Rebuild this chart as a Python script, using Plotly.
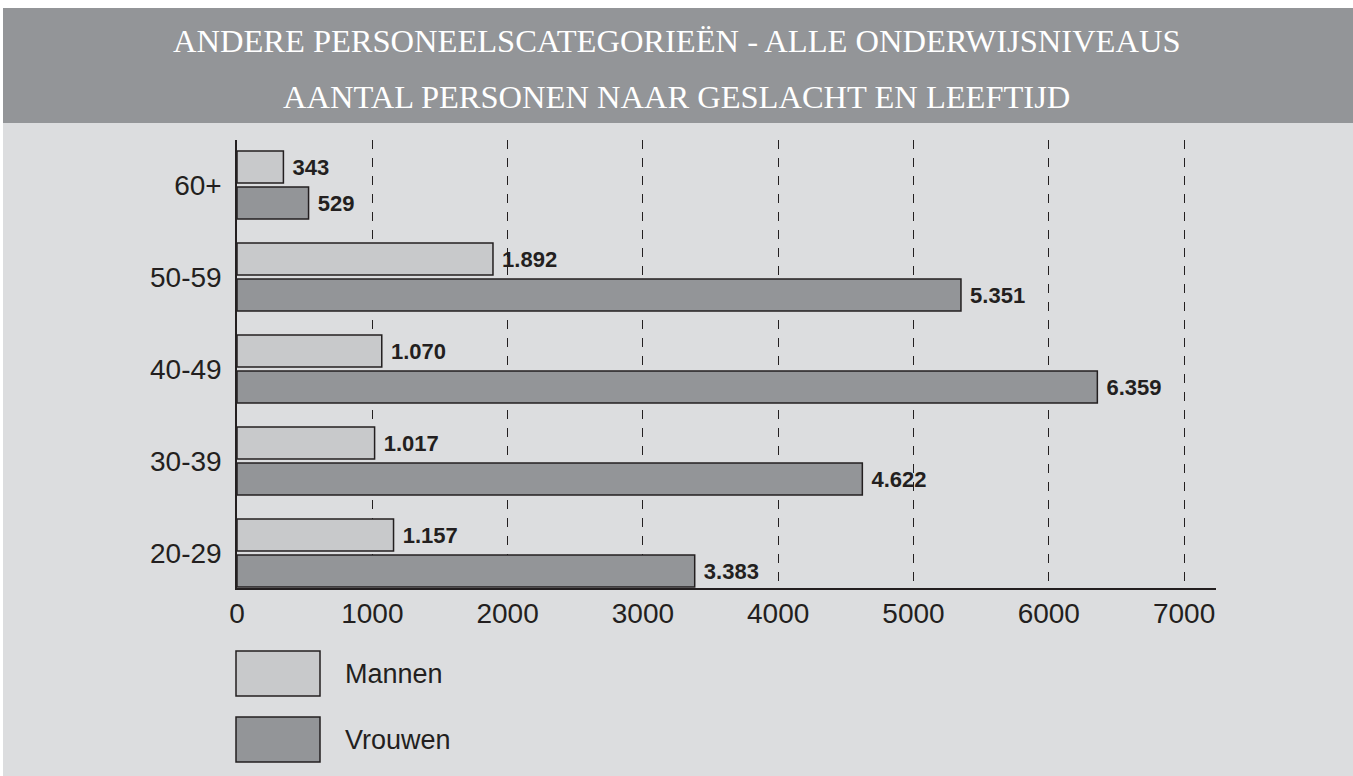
import plotly.graph_objects as go

categories = ["20-29", "30-39", "40-49", "50-59", "60+"]
mannen = [1157, 1017, 1070, 1892, 343]
vrouwen = [3383, 4622, 6359, 5351, 529]
x_ticks = [0, 1000, 2000, 3000, 4000, 5000, 6000, 7000]
title_lines = ["ANDERE PERSONEELSCATEGORIEËN - ALLE ONDERWIJSNIVEAUS",
               "AANTAL PERSONEN NAAR GESLACHT EN LEEFTIJD"]
legend_names = ["Mannen", "Vrouwen"]

C_LIGHT = "#c8c9cb"
C_DARK = "#939598"
C_BG = "#dcdddf"
C_INK = "#231f20"

W, H = 1353, 776
L, R, T, B = 237, 1216, 140, 588
pw, ph = R - L, B - T


def px(x):
    return (x - L) / pw


def py(y):
    return (B - y) / ph


label_font = dict(family="Liberation Sans, Arial", size=22, color=C_INK)
fig = go.Figure()
fig.add_trace(go.Bar(
    y=categories, x=vrouwen, orientation="h", name=legend_names[1],
    marker=dict(color=C_DARK, line=dict(color=C_INK, width=1.5)),
    texttemplate="\u00a0<b>%{x:,}</b>", textposition="outside", cliponaxis=False,
    textfont=label_font, showlegend=False))
fig.add_trace(go.Bar(
    y=categories, x=mannen, orientation="h", name=legend_names[0],
    marker=dict(color=C_LIGHT, line=dict(color=C_INK, width=1.5)),
    texttemplate="\u00a0<b>%{x:,}</b>", textposition="outside", cliponaxis=False,
    textfont=label_font, showlegend=False))

shapes = [
    dict(type="rect", xref="paper", yref="paper", x0=px(0), x1=px(W), y0=py(8), y1=py(0),
         fillcolor="white", line_width=0, layer="below"),
    dict(type="rect", xref="paper", yref="paper", x0=px(0), x1=px(3), y0=py(H), y1=py(0),
         fillcolor="white", line_width=0, layer="below"),
    dict(type="rect", xref="paper", yref="paper", x0=px(3), x1=px(W), y0=py(123), y1=py(8),
         fillcolor=C_DARK, line_width=0, layer="below"),
]
annotations = []
for i, (name, col) in enumerate(zip(legend_names, [C_LIGHT, C_DARK])):
    y0 = 651 + i * 66
    shapes.append(dict(type="rect", xref="paper", yref="paper", x0=px(236), x1=px(320),
                       y0=py(y0 + 45), y1=py(y0), fillcolor=col,
                       line=dict(color=C_INK, width=1.5)))
    annotations.append(dict(xref="paper", yref="paper", x=px(343), y=py(y0 + 23),
                            text=name, showarrow=False, xanchor="left", yanchor="middle",
                            font=dict(family="Liberation Sans, Arial", size=27, color=C_INK)))
for i, (line, yc) in enumerate(zip(title_lines, [41, 97])):
    annotations.append(dict(xref="paper", yref="paper", x=px(676), y=py(yc),
                            text=line, showarrow=False, xanchor="center", yanchor="middle",
                            font=dict(family="Liberation Serif, Times New Roman", size=32.5,
                                      color="white")))

fig.update_layout(
    width=W, height=H,
    margin=dict(l=L, r=W - R, t=T, b=H - B, pad=0),
    paper_bgcolor=C_BG, plot_bgcolor=C_BG,
    barmode="group", bargap=0.217, bargroupgap=0.111,
    separators=",.",
    shapes=shapes, annotations=annotations,
    showlegend=False,
    xaxis=dict(range=[0, 7236], tickvals=x_ticks, ticktext=[str(v) for v in x_ticks],
               showgrid=True, gridcolor=C_INK, griddash="dash", gridwidth=1.2,
               showline=True, linecolor=C_INK, linewidth=1.5, zeroline=False,
               ticks="", ticklabelstandoff=0,
               tickfont=dict(family="Liberation Sans, Arial", size=28, color=C_INK)),
    yaxis=dict(range=[-0.38, 4.49], categoryorder="array", categoryarray=categories,
               showgrid=False, showline=True, linecolor=C_INK, linewidth=1.5,
               ticks="", ticklabelstandoff=8, zeroline=False,
               tickfont=dict(family="Liberation Sans, Arial", size=28, color=C_INK)),
)

fig.write_html("out.html", config={"displayModeBar": False},
               post_script="document.body.style.margin='0';document.body.style.overflow='hidden';")
